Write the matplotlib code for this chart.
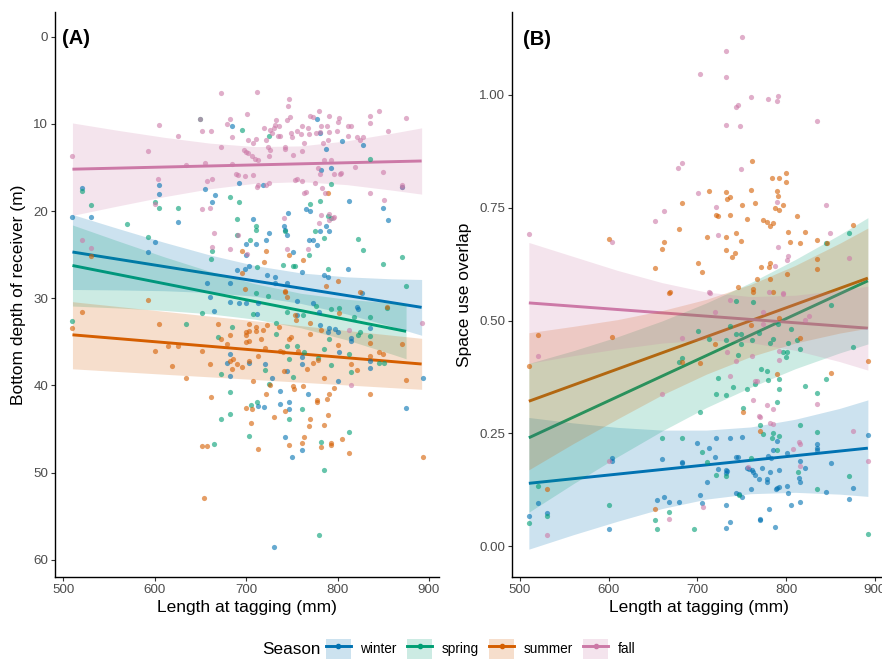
"""Bottom depth and space use overlap vs. length at tagging, by season.

Two panels: (A) bottom depth of receiver, (B) space use overlap.
Scatter of individual detections plus per-season linear fit with 95% band.
"""
import matplotlib as mpl
mpl.use("Agg")
import matplotlib.pyplot as plt
from matplotlib.lines import Line2D
from matplotlib.patches import Patch

# ---------------------------------------------------------------------------
# Data
# ---------------------------------------------------------------------------

SEASONS = ["winter", "spring", "summer", "fall"]

# --- Panel A: bottom depth of receiver (m) ---------------------------------
A_WINTER_LEN = [510, 520, 530, 605, 605, 626, 600, 593, 655, 663, 666, 685, 692, 707,
                700, 700, 690, 699, 703, 711, 722, 725, 719, 741, 743, 746, 745, 751,
                761, 765, 770, 769, 773, 778, 781, 787, 791, 790, 785, 813, 811, 805,
                828, 793, 782, 778, 781, 787, 850, 855, 871, 745, 732, 732, 723, 682,
                657, 893, 875, 801, 730, 750, 743, 761, 737, 747, 747, 737, 713, 720,
                768, 728, 745, 682, 682, 679, 703, 721, 761, 761, 835, 836, 836, 815,
                815, 802, 790, 791, 797, 801, 821, 822, 781, 780, 773, 756, 756, 712,
                713, 700, 692, 682, 660, 665, 827]
A_WINTER_DEPTH = [20.7, 17.4, 20.7, 17.0, 18.1, 21.3, 23.5, 24.7, 17.5, 19.0, 18.2, 10.3,
                  16.8, 20.9, 23.8, 25.0, 26.8, 26.7, 26.3, 23.8, 23.3, 22.5, 17.0, 21.7,
                  22.2, 20.2, 22.8, 24.7, 27.0, 19.8, 20.0, 23.3, 23.3, 23.9, 22.3, 21.7,
                  22.3, 27.6, 27.3, 18.8, 26.6, 12.0, 12.4, 15.1, 15.3, 9.4, 11.0, 12.9,
                  19.6, 21.0, 17.2, 28.2, 28.2, 27.6, 27.3, 28.2, 28.2, 39.1, 42.6, 39.5,
                  58.5, 48.2, 45.9, 47.4, 40.7, 41.9, 42.7, 42.1, 42.4, 42.5, 41.0, 39.2,
                  38.3, 38.9, 36.4, 37.4, 37.4, 37.6, 36.8, 37.6, 38.0, 37.2, 33.4, 34.9,
                  34.6, 36.2, 33.9, 33.4, 33.5, 33.9, 31.0, 31.2, 33.1, 31.6, 30.6, 30.3,
                  31.9, 31.8, 30.6, 30.5, 30.5, 30.4, 29.9, 31.5, 29.4]

A_SPRING_LEN = [520, 530, 600, 605, 626, 570, 593, 650, 696, 725, 682, 692, 690, 711,
                711, 704, 690, 663, 662, 712, 740, 751, 769, 770, 781, 775, 785, 790,
                793, 793, 790, 822, 828, 836, 850, 871, 875, 743, 754, 510, 634, 652,
                669, 672, 672, 665, 682, 682, 685, 703, 705, 712, 725, 721, 733, 745,
                751, 747, 747, 761, 763, 756, 779, 785, 782, 780, 785, 793, 791, 813,
                812, 815, 822, 836, 835, 845, 851, 854, 733, 708, 711, 724, 745, 776,
                793, 802, 825, 818, 762]
A_SPRING_DEPTH = [17.7, 19.3, 19.0, 19.6, 19.6, 21.5, 23.0, 9.5, 10.7, 11.4, 18.4, 19.0,
                  20.9, 21.7, 22.2, 23.3, 22.8, 24.6, 25.5, 26.4, 26.2, 26.3, 25.1, 19.2,
                  18.9, 22.3, 23.1, 20.6, 20.8, 16.9, 26.7, 23.2, 24.5, 14.0, 26.1, 25.3,
                  28.6, 22.3, 26.3, 32.6, 33.0, 31.7, 34.5, 43.9, 38.7, 46.7, 40.8, 43.3,
                  33.3, 45.8, 42.2, 41.9, 39.8, 38.2, 34.1, 35.5, 39.0, 43.8, 37.0, 42.7,
                  36.2, 35.5, 36.9, 35.8, 46.5, 57.2, 49.7, 37.7, 34.7, 45.3, 36.4, 38.5,
                  34.2, 34.3, 32.2, 37.4, 37.4, 31.1, 32.9, 31.8, 29.4, 29.8, 31.6, 30.9,
                  31.2, 31.1, 33.9, 32.2, 31.9]

A_SUMMER_LEN = [510, 520, 593, 605, 600, 615, 619, 626, 634, 652, 660, 669, 672, 662,
                652, 657, 654, 679, 682, 682, 685, 690, 696, 700, 703, 703, 703, 700,
                700, 706, 705, 713, 708, 713, 711, 711, 716, 721, 723, 722, 726, 730,
                737, 740, 743, 747, 741, 747, 751, 752, 757, 763, 761, 762, 770, 769,
                767, 773, 778, 778, 782, 785, 785, 788, 790, 791, 793, 793, 796, 801,
                805, 813, 815, 821, 836, 835, 836, 845, 850, 871, 875, 893, 770, 782,
                802, 825, 854, 755, 753, 779, 770, 749, 736, 719, 745, 743, 700, 686,
                703, 696, 722, 747, 720, 762, 790, 801, 787, 696, 699, 742, 530]
A_SUMMER_DEPTH = [33.4, 31.6, 30.2, 33.0, 36.0, 35.5, 37.8, 35.5, 39.2, 36.0, 37.6, 33.0,
                  34.7, 41.3, 47.0, 47.0, 52.9, 35.2, 34.2, 37.2, 38.1, 37.6, 37.9, 33.9,
                  33.0, 33.8, 34.9, 34.2, 42.6, 42.7, 44.3, 47.3, 39.5, 36.6, 33.3, 33.8,
                  34.7, 35.7, 33.1, 41.0, 39.9, 43.6, 36.0, 36.2, 42.9, 46.8, 38.3, 34.7,
                  40.1, 40.4, 36.0, 45.9, 46.6, 40.1, 43.9, 44.7, 38.1, 37.4, 41.7, 41.9,
                  47.1, 44.6, 39.1, 41.6, 43.4, 41.0, 46.6, 46.8, 40.3, 35.4, 46.1, 47.8,
                  37.6, 38.2, 41.0, 35.1, 36.6, 36.2, 36.4, 35.2, 39.4, 48.2, 34.1, 33.6,
                  31.7, 29.3, 31.0, 32.5, 31.9, 37.1, 32.9, 34.5, 33.3, 33.7, 29.9, 29.3,
                  35.0, 37.0, 37.2, 24.6, 24.6, 25.1, 25.8, 25.6, 17.9, 28.0, 28.6, 27.1,
                  28.9, 29.2, 25.2]

A_FALL_LEN = [510, 672, 712, 747, 746, 650, 682, 701, 679, 685, 733, 745, 748, 732, 736,
              731, 726, 720, 737, 749, 761, 770, 773, 780, 791, 802, 800, 811, 815, 835,
              836, 845, 875, 855, 605, 626, 593, 652, 662, 672, 702, 708, 711, 722, 728,
              724, 735, 742, 743, 750, 756, 760, 769, 763, 761, 751, 768, 776, 781, 789,
              791, 799, 790, 784, 700, 702, 698, 706, 710, 713, 726, 725, 684, 691, 699,
              707, 689, 655, 634, 657, 663, 652, 660, 604, 600, 665, 682, 691, 701, 722,
              725, 712, 713, 741, 745, 753, 756, 761, 763, 765, 775, 781, 783, 786, 796,
              803, 804, 819, 821, 825, 828, 836, 850, 851, 871, 871, 795, 782, 768, 780,
              791, 791, 782, 779, 785, 793, 796, 811, 663, 892, 815, 812, 520, 530]
A_FALL_DEPTH = [13.7, 6.5, 6.3, 7.2, 8.0, 9.5, 9.4, 8.9, 10.0, 11.5, 9.6, 9.6, 9.2, 10.1,
                10.3, 10.5, 10.7, 10.5, 11.4, 11.1, 10.2, 9.1, 9.2, 8.5, 9.1, 9.3, 9.8,
                10.2, 10.2, 9.1, 9.9, 8.5, 9.3, 10.8, 10.1, 11.4, 13.1, 10.8, 10.8, 12.6,
                11.9, 12.2, 11.7, 11.9, 11.1, 12.6, 11.4, 12.6, 12.9, 11.5, 10.8, 11.2,
                11.2, 12.2, 13.1, 13.6, 10.5, 11.1, 10.9, 10.3, 10.9, 10.8, 11.9, 12.2,
                13.2, 13.3, 13.0, 13.7, 14.0, 14.2, 13.0, 13.7, 14.6, 15.9, 16.0, 15.9,
                15.7, 14.5, 14.7, 16.5, 16.3, 19.8, 19.6, 16.3, 19.2, 22.5, 24.3, 22.8,
                24.9, 17.0, 16.8, 17.2, 17.0, 20.8, 24.3, 16.4, 16.3, 16.6, 17.9, 17.8,
                16.8, 15.7, 17.4, 17.9, 15.8, 15.8, 15.6, 14.9, 11.5, 11.9, 11.5, 17.9,
                15.5, 18.7, 17.0, 17.2, 20.8, 20.4, 24.3, 21.4, 21.0, 20.3, 10.3, 15.1,
                14.2, 14.1, 20.7, 11.4, 24.1, 32.8, 40.0, 33.6, 23.3, 24.2]

# fitted line end points and confidence band (panel A)
BAND_X = [510, 560, 610, 660, 710, 760, 810, 860, 892]
A_SPRING_BAND_X = [510, 560, 610, 660, 710, 760, 810, 860, 875]

A_WINTER_FIT = [24.70, 31.05]
A_SPRING_FIT = [26.25, 33.80]
A_SUMMER_FIT = [34.20, 37.55]
A_FALL_FIT = [15.20, 14.26]

A_WINTER_LO = [20.40, 22.01, 23.58, 25.03, 26.26, 27.10, 27.55, 27.78, 27.85]
A_WINTER_HI = [29.00, 29.05, 29.14, 29.35, 29.78, 30.60, 31.81, 33.26, 34.25]
A_SPRING_LO = [21.60, 23.44, 25.24, 26.91, 28.35, 29.44, 30.12, 30.55, 30.65]
A_SPRING_HI = [30.90, 31.12, 31.40, 31.79, 32.41, 33.40, 34.78, 36.43, 36.95]
A_SUMMER_LO = [30.40, 30.95, 31.50, 32.05, 32.60, 33.15, 33.70, 34.25, 34.60]
A_SUMMER_HI = [38.10, 38.41, 38.72, 39.02, 39.33, 39.64, 39.95, 40.26, 40.45]
A_FALL_LO = [9.90, 10.75, 11.54, 12.21, 12.61, 12.53, 11.95, 11.07, 10.46]
A_FALL_HI = [20.50, 19.41, 18.36, 17.45, 16.81, 16.63, 16.97, 17.61, 18.06]

# --- Panel B: space use overlap ---------------------------------------------
B_WINTER_LEN = [510, 520, 530, 600, 604, 604, 654, 660, 662, 668, 679, 682, 682, 700,
                703, 705, 713, 711, 720, 721, 723, 732, 732, 733, 732, 732, 737, 737,
                743, 743, 746, 747, 750, 750, 756, 758, 760, 761, 763, 765, 769, 770,
                771, 773, 778, 778, 781, 780, 782, 783, 785, 787, 789, 790, 790, 792,
                792, 801, 802, 805, 815, 816, 816, 814, 821, 835, 835, 835, 845, 850,
                871, 875, 892, 801]
B_WINTER_OVL = [0.067, 0.095, 0.074, 0.037, 0.195, 0.189, 0.102, 0.192, 0.108, 0.098,
                0.098, 0.187, 0.183, 0.228, 0.112, 0.096, 0.217, 0.143, 0.198, 0.239,
                0.171, 0.169, 0.161, 0.167, 0.092, 0.041, 0.054, 0.239, 0.198, 0.117,
                0.197, 0.115, 0.109, 0.241, 0.172, 0.171, 0.126, 0.169, 0.163, 0.158,
                0.148, 0.058, 0.061, 0.172, 0.148, 0.143, 0.082, 0.200, 0.165, 0.196,
                0.213, 0.043, 0.126, 0.232, 0.128, 0.169, 0.130, 0.133, 0.117, 0.092,
                0.097, 0.189, 0.143, 0.150, 0.172, 0.226, 0.218, 0.212, 0.119, 0.183,
                0.104, 0.128, 0.246, 0.206]

B_SPRING_LEN = [510, 520, 530, 600, 652, 654, 668, 696, 660, 682, 679, 682, 701, 703,
                705, 711, 713, 721, 721, 723, 732, 732, 732, 737, 740, 743, 743, 746,
                749, 749, 751, 756, 747, 760, 761, 763, 765, 769, 770, 772, 774, 778,
                780, 782, 784, 785, 785, 790, 790, 791, 792, 792, 792, 801, 800, 802,
                805, 796, 812, 815, 815, 813, 821, 835, 835, 835, 845, 850, 871, 875,
                892, 845, 871]
B_SPRING_OVL = [0.050, 0.133, 0.067, 0.091, 0.058, 0.037, 0.075, 0.037, 0.239, 0.240,
                0.409, 0.416, 0.477, 0.298, 0.208, 0.186, 0.459, 0.158, 0.337, 0.372,
                0.456, 0.335, 0.155, 0.487, 0.352, 0.470, 0.544, 0.423, 0.470, 0.447,
                0.305, 0.349, 0.113, 0.196, 0.457, 0.542, 0.359, 0.472, 0.268, 0.392,
                0.249, 0.389, 0.368, 0.450, 0.239, 0.251, 0.460, 0.319, 0.212, 0.492,
                0.370, 0.245, 0.349, 0.430, 0.419, 0.451, 0.482, 0.431, 0.457, 0.437,
                0.268, 0.163, 0.354, 0.340, 0.253, 0.126, 0.370, 0.534, 0.156, 0.441,
                0.027, 0.672, 0.695]

B_SUMMER_LEN = [600, 682, 713, 732, 733, 737, 750, 765, 760, 761, 756, 774, 778, 785,
                782, 787, 792, 796, 790, 791, 784, 792, 800, 800, 802, 804, 815, 812,
                821, 835, 846, 875, 721, 723, 737, 743, 749, 732, 732, 739, 742, 711,
                701, 705, 652, 660, 662, 679, 669, 772, 781, 782, 801, 782, 767, 746,
                835, 835, 763, 510, 520, 604, 668, 682, 703, 720, 751, 760, 790, 792,
                815, 850, 892, 770, 652, 530, 763, 785]
B_SUMMER_OVL = [0.680, 0.761, 0.787, 0.785, 0.770, 0.774, 0.755, 0.761, 0.790, 0.854,
                0.726, 0.722, 0.719, 0.717, 0.709, 0.750, 0.745, 0.757, 0.787, 0.776,
                0.817, 0.817, 0.828, 0.808, 0.697, 0.674, 0.671, 0.731, 0.697, 0.678,
                0.671, 0.712, 0.734, 0.732, 0.735, 0.695, 0.676, 0.685, 0.656, 0.641,
                0.649, 0.685, 0.628, 0.607, 0.617, 0.659, 0.675, 0.702, 0.563, 0.619,
                0.619, 0.628, 0.604, 0.593, 0.591, 0.574, 0.615, 0.636, 0.569, 0.400,
                0.467, 0.464, 0.562, 0.407, 0.405, 0.447, 0.298, 0.489, 0.382, 0.505,
                0.462, 0.383, 0.411, 0.254, 0.081, 0.126, 0.564, 0.564]

B_FALL_LEN = [510, 604, 652, 662, 678, 682, 701, 703, 721, 723, 732, 732, 732, 743, 746,
              748, 749, 750, 760, 780, 790, 791, 790, 791, 802, 801, 787, 835, 845, 849,
              871, 713, 796, 520, 660, 682, 737, 733, 743, 761, 763, 765, 767, 769, 770,
              782, 785, 778, 785, 792, 792, 826, 821, 774, 774, 720, 808, 815, 814, 816,
              875, 892, 835, 600, 530, 668, 706, 757, 714, 737, 781, 796]
B_FALL_OVL = [0.692, 0.675, 0.720, 0.743, 0.838, 0.850, 0.782, 1.047, 0.752, 0.689,
              1.098, 1.040, 0.933, 0.973, 0.977, 0.931, 0.835, 1.129, 0.996, 0.992,
              0.987, 0.998, 0.763, 0.664, 0.643, 0.635, 0.620, 0.942, 0.756, 0.693,
              0.639, 0.564, 0.560, 0.422, 0.337, 0.461, 0.378, 0.431, 0.410, 0.422,
              0.324, 0.365, 0.365, 0.289, 0.285, 0.272, 0.271, 0.313, 0.304, 0.413,
              0.433, 0.511, 0.501, 0.493, 0.518, 0.518, 0.214, 0.226, 0.231, 0.178,
              0.254, 0.189, 0.314, 0.189, 0.024, 0.061, 0.087, 0.175, 0.562, 0.546,
              0.564, 0.559]

B_WINTER_FIT = [0.139, 0.217]
B_SPRING_FIT = [0.240, 0.588]
B_SUMMER_FIT = [0.321, 0.594]
B_FALL_FIT = [0.539, 0.483]

B_WINTER_LO = [-0.007, 0.025, 0.055, 0.083, 0.104, 0.116, 0.119, 0.115, 0.110]
B_WINTER_HI = [0.285, 0.273, 0.263, 0.257, 0.257, 0.264, 0.281, 0.305, 0.324]
B_SPRING_LO = [0.075, 0.138, 0.198, 0.255, 0.307, 0.352, 0.393, 0.428, 0.448]
B_SPRING_HI = [0.405, 0.433, 0.464, 0.499, 0.539, 0.584, 0.635, 0.690, 0.728]
B_SUMMER_LO = [0.169, 0.227, 0.282, 0.335, 0.381, 0.420, 0.450, 0.472, 0.483]
B_SUMMER_HI = [0.473, 0.487, 0.502, 0.522, 0.547, 0.580, 0.622, 0.671, 0.705]
B_FALL_LO = [0.405, 0.422, 0.437, 0.450, 0.457, 0.451, 0.434, 0.409, 0.390]
B_FALL_HI = [0.673, 0.642, 0.611, 0.584, 0.563, 0.553, 0.556, 0.567, 0.576]

# ---------------------------------------------------------------------------
# Style
# ---------------------------------------------------------------------------

COLORS = {"winter": "#0072B2", "spring": "#009E73",
          "summer": "#D55E00", "fall": "#CC79A7"}
TICK_GREY = "#4D4D4D"

mpl.rcParams.update({
    "font.family": ["Liberation Sans", "DejaVu Sans"],
    "axes.spines.top": False, "axes.spines.right": False,
    "axes.linewidth": 1.0, "axes.edgecolor": "black",
    "xtick.color": "#333333", "ytick.color": "#333333",
    "xtick.labelcolor": TICK_GREY, "ytick.labelcolor": TICK_GREY,
    "xtick.labelsize": 9.6, "ytick.labelsize": 9.6,
    "xtick.major.size": 3.0, "ytick.major.size": 3.0,
    "xtick.major.width": 0.8, "ytick.major.width": 0.8,
    "axes.labelsize": 12.5,
})


def draw_panel(ax, series, band_x):
    """series: list of (season, lens, vals, fit, lo, hi)."""
    for season, lens, vals, fit, lo, hi in series:
        c = COLORS[season]
        bx = band_x.get(season, BAND_X)
        ax.plot([bx[0], bx[-1]], fit, color=c, lw=2.1, zorder=2,
                solid_capstyle="butt")
        ax.fill_between(bx, lo, hi, color=c, alpha=0.2, lw=0, zorder=2.5)
    for season, lens, vals, fit, lo, hi in series:
        ax.scatter(lens, vals, s=14, color=COLORS[season], alpha=0.6,
                   linewidths=0, zorder=3)


def main():
    fig = plt.figure(figsize=(8.82, 6.60), dpi=100)
    ax_a = fig.add_axes([55 / 882, 83 / 660, 384 / 882, 565 / 660])
    ax_b = fig.add_axes([512 / 882, 83 / 660, 373 / 882, 565 / 660])

    draw_panel(ax_a, [
        ("winter", A_WINTER_LEN, A_WINTER_DEPTH, A_WINTER_FIT, A_WINTER_LO, A_WINTER_HI),
        ("spring", A_SPRING_LEN, A_SPRING_DEPTH, A_SPRING_FIT, A_SPRING_LO, A_SPRING_HI),
        ("summer", A_SUMMER_LEN, A_SUMMER_DEPTH, A_SUMMER_FIT, A_SUMMER_LO, A_SUMMER_HI),
        ("fall", A_FALL_LEN, A_FALL_DEPTH, A_FALL_FIT, A_FALL_LO, A_FALL_HI),
    ], {"spring": A_SPRING_BAND_X})

    draw_panel(ax_b, [
        ("winter", B_WINTER_LEN, B_WINTER_OVL, B_WINTER_FIT, B_WINTER_LO, B_WINTER_HI),
        ("spring", B_SPRING_LEN, B_SPRING_OVL, B_SPRING_FIT, B_SPRING_LO, B_SPRING_HI),
        ("summer", B_SUMMER_LEN, B_SUMMER_OVL, B_SUMMER_FIT, B_SUMMER_LO, B_SUMMER_HI),
        ("fall", B_FALL_LEN, B_FALL_OVL, B_FALL_FIT, B_FALL_LO, B_FALL_HI),
    ], {})

    # axes A
    ax_a.set_xlim(490.9, 911.0)
    ax_a.set_ylim(61.98, -2.83)
    ax_a.set_xticks([500, 600, 700, 800, 900])
    ax_a.set_yticks([0, 10, 20, 30, 40, 50, 60])
    ax_a.set_xlabel("Length at tagging (mm)", labelpad=3)
    ax_a.set_ylabel("Bottom depth of receiver (m)", labelpad=5)
    ax_a.text(0.018, 0.953, "(A)", transform=ax_a.transAxes, fontsize=14.5,
              fontweight="bold", ha="left", va="center")

    # axes B
    ax_b.set_xlim(491.0, 911.3)
    ax_b.set_ylim(-0.0687, 1.184)
    ax_b.set_xticks([500, 600, 700, 800, 900])
    ax_b.set_yticks([0.0, 0.25, 0.50, 0.75, 1.00])
    ax_b.set_yticklabels(["0.00", "0.25", "0.50", "0.75", "1.00"])
    ax_b.set_xlabel("Length at tagging (mm)", labelpad=3)
    ax_b.set_ylabel("Space use overlap", labelpad=5)
    ax_b.text(0.029, 0.951, "(B)", transform=ax_b.transAxes, fontsize=14.5,
              fontweight="bold", ha="left", va="center")

    for ax in (ax_a, ax_b):
        ax.grid(False)
        ax.tick_params(pad=2)

    # legend along the bottom
    handles = [
        (Patch(facecolor=COLORS[s], alpha=0.2, lw=0),
         Line2D([], [], color=COLORS[s], lw=2.1, marker="o", ms=3.0))
        for s in SEASONS
    ]
    fig.legend(handles, SEASONS, loc="center", bbox_to_anchor=(480.5 / 882, 11 / 660),
               ncol=4, frameon=False, fontsize=9.8, handlelength=1.84,
               handleheight=1.84, handletextpad=0.66, columnspacing=0.8,
               borderaxespad=0, borderpad=0)
    fig.text(262 / 882, 11 / 660, "Season", fontsize=12.3, ha="left", va="center")

    fig.savefig("out.png", dpi=100)
    plt.close(fig)


if __name__ == "__main__":
    main()
